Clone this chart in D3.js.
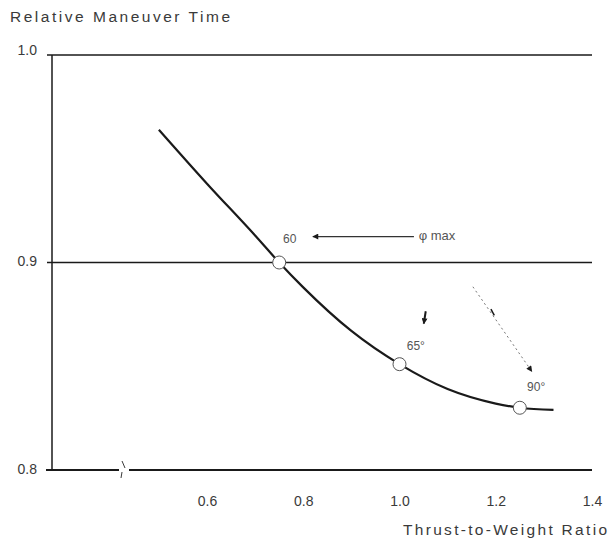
<!DOCTYPE html>
<html>
<head>
<meta charset="utf-8">
<script src="https://cdn.jsdelivr.net/npm/d3@7/dist/d3.min.js"></script>
<style>
  html, body { margin: 0; padding: 0; background: #fff; }
  svg { display: block; font-family: "Liberation Sans", Arial, Helvetica, sans-serif; }
</style>
</head>
<body>
<svg id="chart" width="609" height="543"></svg>
<script>
// ---- data ----
const thrustToWeight = [0.50, 0.60, 0.70, 0.75, 0.80, 0.90, 1.00, 1.10, 1.20, 1.25, 1.32];
const relativeTime   = [0.964, 0.938, 0.913, 0.900, 0.888, 0.867, 0.851, 0.839, 0.832, 0.830, 0.829];

const markerTW    = [0.75, 1.00, 1.25];
const markerTime  = [0.900, 0.851, 0.830];
const markerLabel = ["60", "65°", "90°"];

const xTicks = [0.6, 0.8, 1.0, 1.2, 1.4];
const yTicks = [0.8, 0.9, 1.0];

const yTitle = "Relative Maneuver Time";
const xTitle = "Thrust-to-Weight Ratio";
const arrowText = "φ max";

// ---- layout ----
const svg = d3.select("#chart");
const x = d3.scaleLinear().domain([0.6, 1.4]).range([207, 592]);
const y = d3.scaleLinear().domain([0.8, 1.0]).range([470, 55]);
const left = 52, right = 592;
const ink = "#1a1a1a", textInk = "#3a3a3a";

// horizontal grid / axis lines
svg.append("g").selectAll("line").data(yTicks).join("line")
  .attr("x1", d => d === 0.8 ? left - 6 : left - 5)
  .attr("x2", right)
  .attr("y1", d => y(d)).attr("y2", d => y(d))
  .attr("stroke", ink)
  .attr("stroke-width", d => d === 0.8 ? 2.2 : 1.5);

// y axis line
svg.append("line").attr("x1", left).attr("x2", left)
  .attr("y1", y(1.0)).attr("y2", y(0.8))
  .attr("stroke", ink).attr("stroke-width", 1.5);

// axis break on bottom axis
const bx = 124;
svg.append("rect").attr("x", bx - 5).attr("y", y(0.8) - 3).attr("width", 10).attr("height", 6).attr("fill", "#fff");
svg.append("line").attr("x1", bx - 2).attr("y1", y(0.8) - 9).attr("x2", bx + 1).attr("y2", y(0.8) - 2)
  .attr("stroke", textInk).attr("stroke-width", 1);
svg.append("line").attr("x1", bx - 2).attr("y1", y(0.8) + 2).attr("x2", bx - 3).attr("y2", y(0.8) + 8)
  .attr("stroke", textInk).attr("stroke-width", 1);

// y tick labels
svg.append("g").selectAll("text").data(yTicks).join("text")
  .attr("x", 37).attr("y", d => y(d) + (d === 1.0 ? -4 : 0))
  .attr("text-anchor", "end").attr("dominant-baseline", "middle")
  .attr("font-size", 14).attr("fill", textInk)
  .text(d3.format(".1f"));

// x axis labels via d3 axis
const xAxis = d3.axisBottom(x).tickValues(xTicks).tickSize(0).tickPadding(0).tickFormat(d3.format(".1f"));
const gx = svg.append("g").attr("transform", `translate(0, 496)`).call(xAxis);
gx.select(".domain").remove();
gx.selectAll("text").attr("font-size", 14).attr("fill", textInk)
  .attr("font-family", "'Liberation Sans', Arial, sans-serif").attr("dy", "0.71em");

// titles
svg.append("text").attr("x", 10).attr("y", 22).attr("font-size", 15.5).attr("fill", textInk)
  .attr("textLength", 220).attr("lengthAdjust", "spacing").text(yTitle);
svg.append("text").attr("x", 403).attr("y", 535).attr("font-size", 15.5).attr("fill", textInk)
  .attr("textLength", 204).attr("lengthAdjust", "spacing").text(xTitle);

// curve
const pts = thrustToWeight.map((t, i) => [t, relativeTime[i]]);
const line = d3.line().x(d => x(d[0])).y(d => y(d[1])).curve(d3.curveMonotoneX);
svg.append("path").datum(pts).attr("d", line)
  .attr("fill", "none").attr("stroke", ink).attr("stroke-width", 2.2);

// markers
svg.append("g").selectAll("circle").data(markerTW).join("circle")
  .attr("cx", d => x(d)).attr("cy", (d, i) => y(markerTime[i]))
  .attr("r", 6.5).attr("fill", "#fff").attr("stroke", "#555").attr("stroke-width", 1);

// marker labels (offsets in data units)
const labelDX = [0.008, 0.015, 0.015];
const labelDY = [0.0095, 0.007, 0.008];
svg.append("g").selectAll("text").data(markerTW).join("text")
  .attr("x", (d, i) => x(d + labelDX[i])).attr("y", (d, i) => y(markerTime[i] + labelDY[i]))
  .attr("font-size", 12).attr("fill", "#555")
  .text((d, i) => markerLabel[i]);

// arrows
const defs = svg.append("defs");
defs.append("marker").attr("id", "ah").attr("viewBox", "0 0 10 10")
  .attr("refX", 9).attr("refY", 5).attr("markerWidth", 9).attr("markerHeight", 6)
  .attr("markerUnits", "userSpaceOnUse").attr("orient", "auto")
  .append("path").attr("d", "M0,0 L10,5 L0,10 Z").attr("fill", ink);
defs.append("marker").attr("id", "ah2").attr("viewBox", "0 0 10 10")
  .attr("refX", 9).attr("refY", 5).attr("markerWidth", 12).attr("markerHeight", 6)
  .attr("markerUnits", "userSpaceOnUse").attr("orient", "auto")
  .append("path").attr("d", "M0,0 L10,5 L0,10 Z").attr("fill", ink);

// phi max arrow (horizontal, pointing left)
svg.append("line").attr("x1", x(1.03)).attr("y1", y(0.9125)).attr("x2", x(0.82)).attr("y2", y(0.9125))
  .attr("stroke", "#333").attr("stroke-width", 1.3).attr("marker-end", "url(#ah)");
svg.append("text").attr("x", x(1.04)).attr("y", y(0.9125)).attr("dominant-baseline", "middle")
  .attr("font-size", 13).attr("fill", "#555").text(arrowText);

// short down arrow above 65
svg.append("line").attr("x1", x(1.0545)).attr("y1", y(0.8765)).attr("x2", x(1.0505)).attr("y2", y(0.8705))
  .attr("stroke", ink).attr("stroke-width", 2).attr("marker-end", "url(#ah2)");

// dotted diagonal arrow toward 90
svg.append("line").attr("x1", x(1.1525)).attr("y1", y(0.8883)).attr("x2", x(1.275)).attr("y2", y(0.8475))
  .attr("stroke", "#777").attr("stroke-width", 1).attr("stroke-dasharray", "2,3").attr("marker-end", "url(#ah2)");
// small dark tick on the dotted line
svg.append("line").attr("x1", x(1.19)).attr("y1", y(0.8775)).attr("x2", x(1.197)).attr("y2", y(0.8745))
  .attr("stroke", ink).attr("stroke-width", 1.5);
</script>
</body>
</html>
